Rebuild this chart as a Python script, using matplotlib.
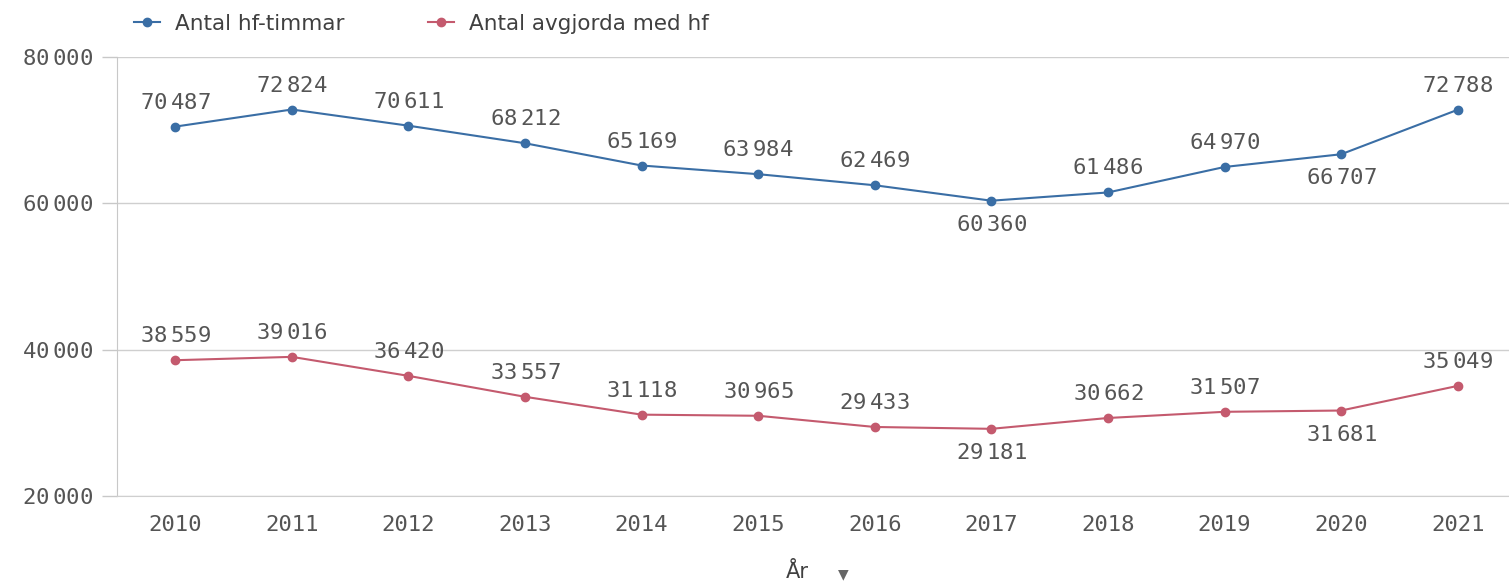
import matplotlib
matplotlib.use("Agg")
import matplotlib.pyplot as plt
from matplotlib.lines import Line2D

# Values
years = ["2010", "2011", "2012", "2013", "2014", "2015",
         "2016", "2017", "2018", "2019", "2020", "2021"]
hf_timmar = [70487, 72824, 70611, 68212, 65169, 63984,
             62469, 60360, 61486, 64970, 66707, 72788]
avgjorda = [38559, 39016, 36420, 33557, 31118, 30965,
            29433, 29181, 30662, 31507, 31681, 35049]
# labels drawn below the point instead of above
below_hf = {"2017", "2020"}
below_avg = {"2017", "2020"}
yticks = [20000, 40000, 60000, 80000]

BLUE = "#3a6ea5"
RED = "#c45a6e"
TEXT = "#555555"
GRID = "#cfcfcf"
MONO = "DejaVu Sans Mono"
SANS = "DejaVu Sans"

plt.rcParams["mathtext.fontset"] = "custom"
plt.rcParams["mathtext.rm"] = MONO


def fmt(v):
    s = f"{v:,}"
    return s.replace(",", r"$\,$")


fig = plt.figure(figsize=(15.09, 5.83), dpi=100)
ax = fig.add_axes([117 / 1509, 1 - 496 / 583, 1 - 117 / 1509, (496 - 57) / 583])

x = list(range(len(years)))
ax.plot(x, hf_timmar, color=BLUE, lw=1.5, marker="o", ms=6, zorder=3)
ax.plot(x, avgjorda, color=RED, lw=1.5, marker="o", ms=6, zorder=3)

for series, below in ((hf_timmar, below_hf), (avgjorda, below_avg)):
    for i, v in enumerate(series):
        dy = -24 if years[i] in below else 24
        ax.annotate(fmt(v), (i, v), xytext=(0, dy), textcoords="offset pixels",
                    ha="center", va="center", fontsize=16, color=TEXT,
                    family=MONO)

ax.set_xlim(-0.5, 11.44)
ax.set_ylim(20000, 80000)
ax.set_xticks(x)
ax.set_xticklabels(years, family=MONO, fontsize=16, color=TEXT)
ax.set_yticks(yticks)
ax.set_yticklabels([fmt(v) for v in yticks], family=MONO, fontsize=16, color=TEXT)
ax.tick_params(axis="x", length=0, pad=14)
ax.tick_params(axis="y", length=11, width=1, color="#c8c8c8", pad=6)
ax.grid(axis="y", color=GRID, lw=1)
ax.set_axisbelow(True)
for side in ("top", "right"):
    ax.spines[side].set_visible(False)
ax.spines["left"].set_color("#c8c8c8")
ax.spines["bottom"].set_color(GRID)

# x-axis title with the dropdown arrow
fig.text(797 / 1509, 1 - 572 / 583, "År", ha="center", va="center",
         fontsize=15, color="#404040", family=SANS)
fig.text(843 / 1509, 1 - 574 / 583, "▼", ha="center", va="center",
         fontsize=10, color="#666666", family=SANS)

handles = [Line2D([], [], color=BLUE, lw=1.5, marker="o", ms=6),
           Line2D([], [], color=RED, lw=1.5, marker="o", ms=6)]
fig.legend(handles, ["Antal hf-timmar", "Antal avgjorda med hf"],
           loc="center left", bbox_to_anchor=(134 / 1509, 1 - 24 / 583),
           ncol=2, frameon=False, handlelength=1.2, handletextpad=0.7,
           columnspacing=3.9, prop={"family": SANS, "size": 15.5},
           labelcolor="#404040", borderaxespad=0, borderpad=0)

fig.savefig("out.png", dpi=100)
